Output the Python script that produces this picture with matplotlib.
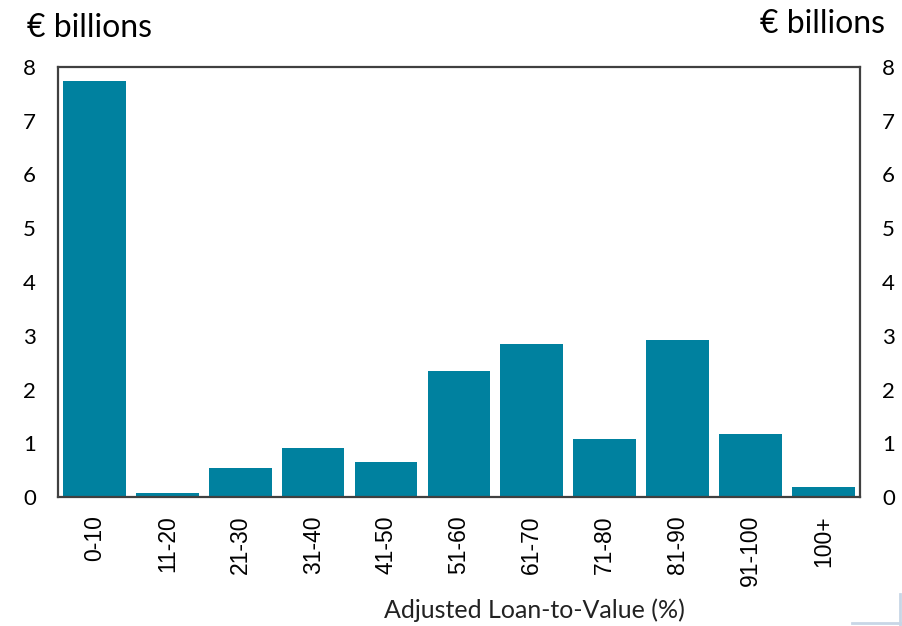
import matplotlib.pyplot as plt
from matplotlib.lines import Line2D
import numpy as np

# data
ltv_bands = ["0-10", "11-20", "21-30", "31-40", "41-50", "51-60",
             "61-70", "71-80", "81-90", "91-100", "100+"]
amounts = [7.74, 0.07, 0.54, 0.91, 0.65, 2.34, 2.85, 1.08, 2.92, 1.17, 0.19]
y_ticks = [0, 1, 2, 3, 4, 5, 6, 7, 8]

bar_color = "#00819F"

fig = plt.figure(figsize=(9.03, 6.26), dpi=100)
ax = fig.add_axes([0.0642, 0.206, 0.888, 0.687])

x = np.arange(len(ltv_bands))
ax.bar(x, amounts, width=0.86, color=bar_color)

ax.set_xlim(-0.5, len(ltv_bands) - 0.5)
ax.set_ylim(0, 8)
ax.set_yticks(y_ticks)
ax.set_xticks(x)
ax.set_xticklabels(ltv_bands, rotation=90, fontsize=16.5,
                   family="Liberation Sans")

for s in ax.spines.values():
    s.set_color("#404040")
    s.set_linewidth(1.6)

ax.tick_params(axis="y", length=0, pad=16, labelsize=16,
               labelleft=True, labelright=True)
ax.tick_params(axis="x", length=0, pad=13)
for lab in ax.get_yticklabels():
    lab.set_family("Lato")

# axis titles
fig.text(27 / 903, 1 - 37 / 626, "€ billions", fontsize=23, family="Lato",
         ha="left", va="baseline")
fig.text(885 / 903, 1 - 33 / 626, "€ billions", fontsize=23, family="Lato",
         ha="right", va="baseline")
fig.text(534 / 903, 1 - 618 / 626, "Adjusted Loan-to-Value (%)", fontsize=18,
         family="Lato", ha="center", va="baseline", color="#222222")

# faint frame corner at bottom right
fig.add_artist(Line2D([900 / 903, 900 / 903], [0, 1 - 594 / 626],
                      color="#c8d6e6", lw=2, transform=fig.transFigure))
fig.add_artist(Line2D([852 / 903, 1], [0.004, 0.004],
                      color="#c8d6e6", lw=2, transform=fig.transFigure))

fig.savefig("out.png", dpi=100)
